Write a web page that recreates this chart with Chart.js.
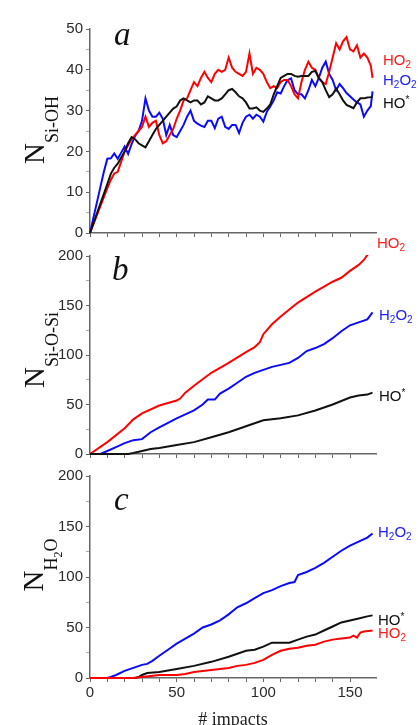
<!DOCTYPE html>
<html>
<head>
<meta charset="utf-8">
<script src="https://cdn.jsdelivr.net/npm/chart.js@4.4.0/dist/chart.umd.min.js"></script>
<style>
  body { margin: 0; background: #fff; }
  #wrap { position: relative; width: 418px; height: 725px; overflow: hidden; background: #fff; }
  #wrap canvas { position: absolute; left: 0; }
  .letter { position: absolute; font-family: "Liberation Serif", "DejaVu Serif", serif; font-style: italic; font-size: 33px; line-height: 32px; color: #111; }
  .ytitle { position: absolute; transform: translate(-50%, -50%) rotate(-90deg); white-space: nowrap; font-family: "Liberation Serif", "DejaVu Serif", serif; font-size: 29px; color: #111; line-height: 28px; }
  .ytitle .sub { font-size: 18px; position: relative; top: 14px; }
  .ytitle .sub2 { font-size: 12px; position: relative; top: 5px; }
  .tag { position: absolute; white-space: nowrap; font-family: "Liberation Sans", Arial, sans-serif; font-size: 15px; line-height: 18px; }
  .tag sub { font-size: 10px; vertical-align: -3px; }
  .tag sup { font-size: 10px; vertical-align: 5px; }
  .red { color: #ff1a1a; }
  .blue { color: #2020ff; }
  .black { color: #111; }
</style>
</head>
<body>
<div id="wrap">
  <canvas id="chartA" width="418" height="228" style="top:17px"></canvas>
  <canvas id="chartB" width="418" height="222" style="top:244px"></canvas>
  <canvas id="chartC" width="418" height="267" style="top:464px"></canvas>

  <div class="letter" style="left:114px;top:18px">a</div>
  <div class="letter" style="left:112px;top:253px">b</div>
  <div class="letter" style="left:114px;top:483px">c</div>

  <div class="ytitle" style="left:36px;top:130px">N<span class="sub">Si-OH</span></div>
  <div class="ytitle" style="left:36px;top:350px">N<span class="sub">Si-O-Si</span></div>
  <div class="ytitle" style="left:36px;top:565px">N<span class="sub">H<span class="sub2">2</span>O</span></div>

  <div class="tag red" style="left:383px;top:51px">HO<sub>2</sub></div>
  <div class="tag blue" style="left:383px;top:71px">H<sub>2</sub>O<sub>2</sub></div>
  <div class="tag black" style="left:383px;top:91px">HO<sup>*</sup></div>

  <div class="tag red" style="left:377px;top:234px">HO<sub>2</sub></div>
  <div class="tag blue" style="left:379px;top:306px">H<sub>2</sub>O<sub>2</sub></div>
  <div class="tag black" style="left:379px;top:384px">HO<sup>*</sup></div>

  <div class="tag blue" style="left:378px;top:523px">H<sub>2</sub>O<sub>2</sub></div>
  <div class="tag black" style="left:378px;top:608px">HO<sup>*</sup></div>
  <div class="tag red" style="left:378px;top:624px">HO<sub>2</sub></div>
</div>

<script>
// panel a: N Si-OH, all three series sampled at the same impacts
const aImpacts = [0, 2, 4, 6, 8, 10, 12, 14, 16, 18, 20, 22, 24, 26, 28, 30, 32, 34, 36, 38,
  40, 42, 44, 46, 48, 50, 52, 54, 56, 58, 60, 62, 64, 66, 68, 70, 72, 74, 76, 78,
  80, 82, 84, 86, 88, 90, 92, 94, 96, 98, 100, 102, 104, 106, 108, 110, 112, 114, 116, 118,
  120, 122, 124, 126, 128, 130, 132, 134, 136, 138, 140, 142, 144, 146, 148, 150, 152, 154, 156, 158,
  160, 162, 163];
const aHO2 = [0, 2.2, 4.4, 6.6, 8.8, 11, 13, 14.6, 15, 17.5, 20, 21.5, 23, 24, 25, 26, 28.5, 26, 27, 27.5,
  24, 22, 22.5, 24, 25.5, 28, 30, 32.5, 33, 35, 37, 36, 38, 39.5, 38, 37, 39, 40, 39.5, 40,
  43, 40.5, 39.5, 39, 38.5, 39.5, 44, 39, 40.5, 40, 39, 37, 35.5, 36, 35.5, 37, 37.5, 37.5, 36, 34,
  33, 37, 40, 42, 40.5, 40, 38, 37, 36.5, 39.5, 43, 46.5, 45, 47, 48, 45, 44.5, 46, 43, 44,
  43, 41, 38];
const aH2O2 = [0, 3.8, 7.5, 11.3, 15, 18.2, 18.3, 19.5, 18.2, 19.7, 21.2, 19.4, 21.8, 23.8, 25, 27.5, 33, 30, 28.5, 28.5,
  29.5, 28, 24, 26.5, 24, 23.5, 25, 26.5, 28.5, 30, 27.5, 26.8, 26.3, 26, 27.5, 27.5, 25.7, 28, 28.5, 26,
  25.5, 26.5, 26.5, 24.5, 27, 28.5, 29, 28, 29, 28.5, 27.3, 29.7, 31, 32.5, 34.5, 34.2, 36, 37.5, 37.9, 35,
  34, 34, 33, 35, 37.5, 36, 38, 40.5, 42, 39, 37.5, 35, 36.5, 35.5, 34.3, 33.5, 32.7, 32, 31.5, 28.5,
  30, 31.1, 34.7];
const aHO = [0, 2.4, 4.8, 7.2, 9.6, 12, 14.5, 16, 17, 18.5, 20, 22, 23.5, 23, 22, 21.5, 21, 22.5, 24, 25.5,
  26.5, 27.5, 28.5, 29.5, 30.5, 31, 32.5, 33, 32.5, 32, 32.5, 32.5, 31.5, 32, 33.5, 33, 32.5, 32.5, 33, 34,
  35, 35.3, 34.5, 33.5, 33, 32, 30.5, 30.5, 30.8, 30, 29.7, 30.5, 31.5, 34, 36, 38, 38.5, 39, 39, 38.5,
  38.3, 38.5, 38.5, 38.5, 39.5, 39.7, 38, 37, 35, 33.3, 34, 35.4, 34, 32.5, 31.4, 31, 30.6, 32, 33, 33,
  33.2, 33.3, 33.5];

// panel b: N Si-O-Si
const bHO2x = [0, 10, 20, 25, 30, 40, 50, 52, 55, 60, 70, 80, 90, 95, 98, 100, 105, 110, 120, 130, 140, 145, 150, 155, 158, 160, 162];
const bHO2y = [0, 12, 26, 35, 41, 49, 54, 56, 62, 69, 82, 92, 103, 108, 113, 121, 131, 139, 153, 164, 174, 178, 185, 191, 196, 201, 204];
const bH2O2x = [0, 6, 10, 15, 20, 25, 30, 35, 40, 50, 55, 60, 65, 68, 70, 72, 75, 80, 85, 90, 95, 100, 105, 110, 115, 120, 125, 130, 135, 140, 145, 150, 155, 160, 163];
const bH2O2y = [0, 0, 3, 7, 11, 14, 15, 22, 27, 36, 40, 44, 50, 55, 55, 55, 61, 66, 72, 78, 82, 85, 88, 90, 92, 97, 104, 107, 111, 117, 124, 130, 133, 136, 143];
const bHOx = [0, 22, 25, 30, 35, 40, 50, 60, 70, 80, 90, 95, 100, 110, 120, 130, 140, 150, 155, 160, 163];
const bHOy = [0, 0, 1, 3, 5, 6, 9, 12, 17, 22, 28, 31, 34, 36, 39, 44, 50, 57, 59, 60, 62];

// panel c: N H2O
const cH2O2x = [0, 10, 12, 15, 20, 25, 30, 33, 36, 40, 45, 50, 55, 60, 65, 70, 75, 80, 85, 90, 95, 100, 105, 110, 115, 118, 120, 125, 130, 135, 140, 145, 150, 155, 160, 163];
const cH2O2y = [0, 0, 1, 3, 7, 10, 13, 14, 17, 22, 28, 34, 39, 44, 50, 53, 57, 63, 70, 74, 79, 84, 87, 91, 94, 95, 102, 105, 109, 114, 120, 126, 131, 135, 139, 143];
const cHOx = [0, 26, 28, 30, 33, 40, 50, 60, 70, 80, 90, 95, 100, 105, 110, 115, 120, 125, 130, 135, 140, 145, 150, 155, 160, 163];
const cHOy = [0, 0, 1, 3, 5, 6, 9, 12, 16, 21, 27, 28, 31, 35, 35, 35, 38, 41, 43, 47, 51, 55, 57, 59, 61, 62];
const cHO2x = [0, 25, 30, 35, 40, 50, 55, 60, 70, 80, 85, 90, 95, 100, 105, 110, 115, 120, 125, 130, 135, 140, 145, 150, 152, 154, 156, 158, 163];
const cHO2y = [0, 0, 1, 2, 3, 3, 4, 6, 8, 10, 12, 13, 15, 18, 23, 27, 29, 30, 32, 33, 36, 38, 39, 40, 42, 40, 45, 46, 47];

const xLabels = [0, 50, 100, 150];

const RED = "#ff0000";
const BLUE = "#0a0aff";
const BLACK = "#111111";
const AXIS = "#666666";

function pts(xs, ys) {
  return xs.map((x, i) => ({ x: x, y: ys[i] }));
}

function line(xs, ys, color) {
  // clip a little outside the area so the lines lying on y = 0 stay visible
  return { data: pts(xs, ys), borderColor: color, borderWidth: 2, pointRadius: 0, fill: false, tension: 0,
    clip: { left: 2, top: 1, right: 4, bottom: 2 } };
}

function options(yMax, yStep, yLabelStep, bottom) {
  return {
    responsive: false,
    animation: false,
    layout: { padding: { top: 10, right: 42, left: 0, bottom: 0 } },
    plugins: { legend: { display: false }, tooltip: { enabled: false } },
    scales: {
      x: {
        type: "linear",
        min: 0,
        max: 165,
        afterBuildTicks: (s) => { s.ticks = s.ticks.filter((t) => t.value % 10 === 0); },
        afterFit: (s) => { s.height = bottom ? 53 : 8; },
        ticks: {
          stepSize: 10,
          autoSkip: false,
          maxRotation: 0,
          padding: 2,
          color: "#2a2a2a",
          font: { family: "'Liberation Sans', Arial, sans-serif", size: 15 },
          callback: (v) => (bottom && xLabels.includes(v) ? String(v) : ""),
        },
        grid: { drawOnChartArea: false, tickLength: 4, color: AXIS },
        border: { display: true, color: AXIS, width: 1.5 },
        title: {
          display: bottom,
          text: "# impacts",
          color: "#222",
          font: { family: "'Liberation Serif', serif", size: 18 },
          padding: { top: 0, bottom: 0 },
        },
      },
      y: {
        min: 0,
        max: yMax,
        afterFit: (s) => { s.width = 90; },
        ticks: {
          stepSize: yStep,
          autoSkip: false,
          padding: 3,
          color: "#2a2a2a",
          font: { family: "'Liberation Sans', Arial, sans-serif", size: 15 },
          callback: (v) => (v % yLabelStep === 0 ? String(v) : ""),
        },
        grid: {
          drawOnChartArea: false,
          tickLength: 4,
          tickColor: (c) => (c.tick && c.tick.value % yLabelStep === 0 ? AXIS : "#aaa"),
        },
        border: { display: true, color: AXIS, width: 1.5 },
      },
    },
  };
}

new Chart(document.getElementById("chartA"), {
  type: "line",
  data: {
    datasets: [
      line(aImpacts, aHO, BLACK),
      line(aImpacts, aHO2, RED),
      line(aImpacts, aH2O2, BLUE),
    ],
  },
  options: options(50, 5, 10, false),
});

new Chart(document.getElementById("chartB"), {
  type: "line",
  data: {
    datasets: [
      line(bHOx, bHOy, BLACK),
      line(bH2O2x, bH2O2y, BLUE),
      line(bHO2x, bHO2y, RED),
    ],
  },
  options: options(200, 25, 50, false),
});

new Chart(document.getElementById("chartC"), {
  type: "line",
  data: {
    datasets: [
      line(cHO2x, cHO2y, RED),
      line(cHOx, cHOy, BLACK),
      line(cH2O2x, cH2O2y, BLUE),
    ],
  },
  options: options(200, 25, 50, true),
});
</script>
</body>
</html>
